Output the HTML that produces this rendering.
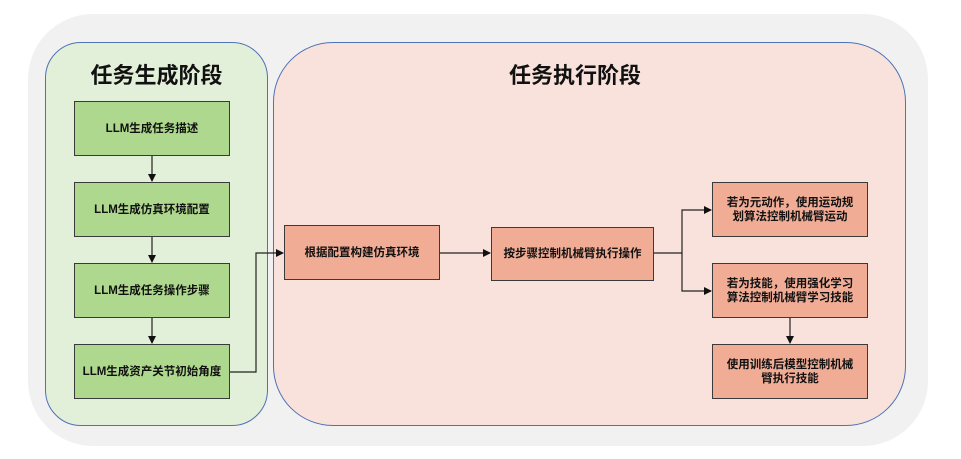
<!DOCTYPE html>
<html><head><meta charset="utf-8"><style>
body{margin:0;width:961px;height:459px;background:#fff;position:relative;overflow:hidden;font-family:"Liberation Sans","Noto Sans CJK SC",sans-serif;}
.a{position:absolute;box-sizing:border-box;}
.bx{position:absolute;box-sizing:border-box;border:1.5px solid #3a3a3a;display:flex;align-items:center;justify-content:center;text-align:center;font-size:11.5px;font-weight:bold;color:#111;line-height:14px;}
.g{background:#aed88e;}
.p{background:#f0ac95;}
.t{position:absolute;font-size:22px;font-weight:bold;color:#111;}
</style></head><body>
<div class="a" style="left:28px;top:14px;width:900px;height:432px;background:#f1f1f1;border-radius:65px;"></div>
<div class="a" style="left:45px;top:42px;width:223px;height:384px;background:#e3f0d9;border:1.5px solid #4e72b5;border-radius:36px;"></div>
<div class="a" style="left:273px;top:42px;width:633px;height:384px;background:#f9e2db;border:1.5px solid #4e72b5;border-radius:60px;"></div>
<div class="t" style="left:45px;width:223px;text-align:center;top:58px;">任务生成阶段</div>
<div class="t" style="left:505px;width:140px;text-align:center;top:58px;">任务执行阶段</div>
<div class="bx g" style="left:74px;top:101px;width:156px;height:55px;">LLM生成任务描述</div>
<div class="bx g" style="left:74px;top:182px;width:156px;height:55px;">LLM生成仿真环境配置</div>
<div class="bx g" style="left:74px;top:263px;width:156px;height:55px;">LLM生成任务操作步骤</div>
<div class="bx g" style="left:74px;top:344px;width:156px;height:55px;">LLM生成资产关节初始角度</div>
<div class="bx p" style="left:284px;top:225px;width:156px;height:55px;">根据配置构建仿真环境</div>
<div class="bx p" style="left:491px;top:227px;width:163px;height:54px;">按步骤控制机械臂执行操作</div>
<div class="bx p" style="left:712px;top:182px;width:156px;height:55px;padding:0 10px;">若为元动作，使用运动规划算法控制机械臂运动</div>
<div class="bx p" style="left:712px;top:263px;width:156px;height:55px;padding:0 10px;">若为技能，使用强化学习算法控制机械臂学习技能</div>
<div class="bx p" style="left:712px;top:344px;width:156px;height:55px;padding:0 10px;">使用训练后模型控制机械臂执行技能</div>
<svg class="a" style="left:0;top:0" width="961" height="459">
<defs><marker id="m" markerWidth="8" markerHeight="8" refX="7" refY="4" orient="auto" markerUnits="userSpaceOnUse"><path d="M0,0 L8,4 L0,8 z" fill="#111"/></marker></defs>
<g stroke="#222" stroke-width="1.2" fill="none">
<line x1="152" y1="156" x2="152" y2="181" marker-end="url(#m)"/>
<line x1="152" y1="237" x2="152" y2="262" marker-end="url(#m)"/>
<line x1="152" y1="318" x2="152" y2="343" marker-end="url(#m)"/>
<polyline points="230,372 256,372 256,253 283,253" marker-end="url(#m)"/>
<line x1="440" y1="253" x2="490" y2="253" marker-end="url(#m)"/>
<polyline points="654,253 682,253 682,210 711,210" marker-end="url(#m)"/>
<polyline points="682,253 682,291 711,291" marker-end="url(#m)"/>
<line x1="790" y1="318" x2="790" y2="343" marker-end="url(#m)"/>
</g></svg>
</body></html>
